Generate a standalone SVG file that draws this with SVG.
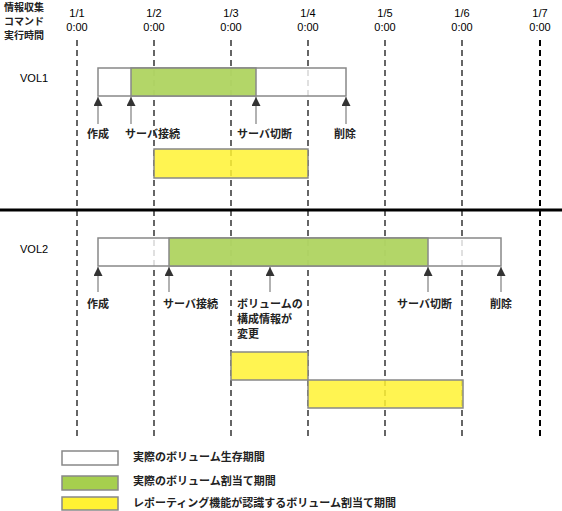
<svg xmlns="http://www.w3.org/2000/svg" width="562" height="511" viewBox="0 0 562 511">
<style>
.t{font-family:"Liberation Sans",Arial,sans-serif;font-size:11px;fill:#000}
.j{font-family:"Noto Sans CJK JP","Liberation Sans",sans-serif;font-size:11px;font-weight:bold;fill:#222}
.h{font-size:10px}
.c{text-anchor:middle}
.dash{stroke:#000;stroke-width:1.2;stroke-dasharray:6 4;fill:none}
.life{fill:#fff;stroke:#888;stroke-width:1.5;fill-opacity:0.8}
.alloc{fill:#a6cf4e;stroke:#888;stroke-width:1.5;fill-opacity:0.85}
.rep{fill:#fff233;stroke:#888;stroke-width:1.5;fill-opacity:0.85}
.arr{stroke:#999;stroke-width:1.5;fill:none}
</style>
<defs>
<marker id="ah" viewBox="0 0 10 10" refX="10" refY="5" markerWidth="9" markerHeight="9" markerUnits="userSpaceOnUse" orient="auto">
<path d="M0,0 L10,5 L0,10 Z" fill="#333"/>
</marker>
</defs>
<rect width="562" height="511" fill="#fff"/>
<g id="header">
<text class="j h" x="4" y="11">情報収集</text>
<text class="j h" x="4" y="25">コマンド</text>
<text class="j h" x="4" y="39">実行時間</text>
<text class="t c" x="77" y="17">1/1</text><text class="t c" x="77" y="31">0:00</text>
<text class="t c" x="154" y="17">1/2</text><text class="t c" x="154" y="31">0:00</text>
<text class="t c" x="231" y="17">1/3</text><text class="t c" x="231" y="31">0:00</text>
<text class="t c" x="308" y="17">1/4</text><text class="t c" x="308" y="31">0:00</text>
<text class="t c" x="385" y="17">1/5</text><text class="t c" x="385" y="31">0:00</text>
<text class="t c" x="462" y="17">1/6</text><text class="t c" x="462" y="31">0:00</text>
<text class="t c" x="540" y="17">1/7</text><text class="t c" x="540" y="31">0:00</text>
</g>
<g id="gridlines">
<line class="dash" x1="77" y1="40" x2="77" y2="440"/>
<line class="dash" x1="154" y1="40" x2="154" y2="440"/>
<line class="dash" x1="231" y1="40" x2="231" y2="440"/>
<line class="dash" x1="308" y1="40" x2="308" y2="440"/>
<line class="dash" x1="385" y1="40" x2="385" y2="440"/>
<line class="dash" x1="462" y1="40" x2="462" y2="440"/>
<line class="dash" x1="540" y1="40" x2="540" y2="440" style="stroke-width:2"/>
</g>
<line id="separator" x1="0" y1="210" x2="562" y2="210" stroke="#000" stroke-width="3"/>
<g id="vol1">
<text class="t" x="20" y="82">VOL1</text>
<rect class="life" x="98" y="68" width="248" height="28"/>
<rect class="alloc" x="131" y="68" width="125" height="28"/>
<rect class="rep" x="154" y="149" width="154" height="29"/>
</g>
<g id="vol2">
<text class="t" x="20" y="253">VOL2</text>
<rect class="life" x="98" y="238" width="403" height="28"/>
<rect class="alloc" x="169" y="238" width="259" height="28"/>
<rect class="rep" x="231" y="352" width="77" height="28"/>
<rect class="rep" x="308" y="380" width="155" height="28"/>
</g>
<g id="connectors">
<line class="arr" x1="98" y1="124" x2="98" y2="97" marker-end="url(#ah)"/>
<line class="arr" x1="131" y1="124" x2="131" y2="97" marker-end="url(#ah)"/>
<line class="arr" x1="256" y1="124" x2="256" y2="97" marker-end="url(#ah)"/>
<line class="arr" x1="346" y1="124" x2="346" y2="97" marker-end="url(#ah)"/>
<line class="arr" x1="98" y1="292" x2="98" y2="267" marker-end="url(#ah)"/>
<line class="arr" x1="169" y1="292" x2="169" y2="267" marker-end="url(#ah)"/>
<line class="arr" x1="270" y1="292" x2="270" y2="267" marker-end="url(#ah)"/>
<line class="arr" x1="428" y1="292" x2="428" y2="267" marker-end="url(#ah)"/>
<line class="arr" x1="501" y1="292" x2="501" y2="267" marker-end="url(#ah)"/>
</g>
<g id="labels">
<text class="j" x="87" y="138">作成</text>
<text class="j" x="125" y="138">サーバ接続</text>
<text class="j" x="237" y="138">サーバ切断</text>
<text class="j" x="334" y="138">削除</text>
<text class="j" x="87" y="308">作成</text>
<text class="j" x="163" y="308">サーバ接続</text>
<text class="j" x="237" y="308">ボリュームの</text>
<text class="j" x="237" y="323">構成情報が</text>
<text class="j" x="237" y="338">変更</text>
<text class="j" x="397" y="308">サーバ切断</text>
<text class="j" x="490" y="308">削除</text>
</g>
<g id="legend">
<rect class="life" x="62" y="451" width="56" height="14" style="fill-opacity:1"/>
<rect class="alloc" x="62" y="476" width="56" height="14" style="fill-opacity:1"/>
<rect class="rep" x="62" y="497" width="56" height="13" style="fill-opacity:1"/>
<text class="j" x="133" y="461">実際のボリューム生存期間</text>
<text class="j" x="133" y="485">実際のボリューム割当て期間</text>
<text class="j" x="133" y="507">レポーティング機能が認識するボリューム割当て期間</text>
</g>
</svg>
